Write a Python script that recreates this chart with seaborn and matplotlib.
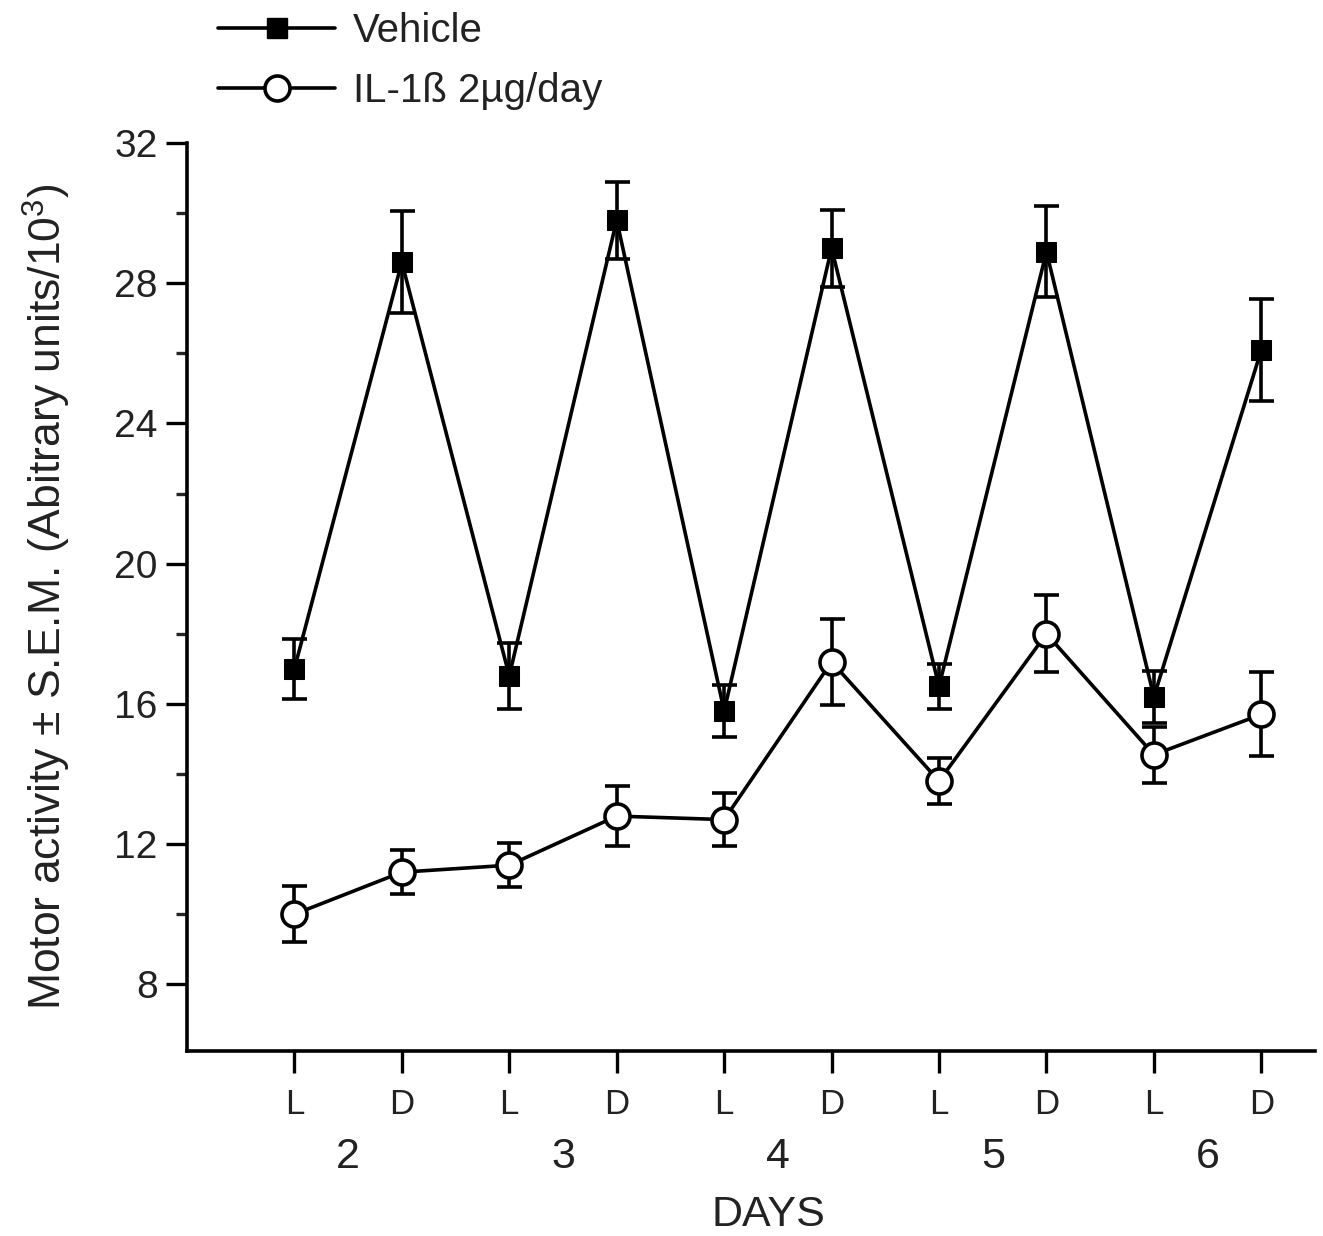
import numpy as np
import pandas as pd
import matplotlib
matplotlib.use("Agg")
import matplotlib.pyplot as plt
import matplotlib.transforms as mtransforms
from matplotlib.lines import Line2D
import seaborn as sns

# values
positions = [1, 2, 3, 4, 5, 6, 7, 8, 9, 10]
phase_labels = ["L", "D", "L", "D", "L", "D", "L", "D", "L", "D"]
day_labels = ["2", "3", "4", "5", "6"]
day_centres = [1.5, 3.5, 5.5, 7.5, 9.5]

vehicle_mean = [17.0, 28.6, 16.8, 29.8, 15.8, 29.0, 16.5, 28.9, 16.2, 26.1]
vehicle_sem = [0.85, 1.45, 0.95, 1.1, 0.75, 1.1, 0.65, 1.3, 0.75, 1.45]
il1_mean = [10.0, 11.2, 11.4, 12.8, 12.7, 17.2, 13.8, 18.0, 14.55, 15.7]
il1_sem = [0.8, 0.62, 0.62, 0.85, 0.75, 1.22, 0.65, 1.1, 0.8, 1.2]

sns.set_theme(style="ticks")
plt.rcParams['font.family'] = ['Liberation Sans', 'DejaVu Sans']
plt.rcParams['mathtext.fontset'] = 'custom'
plt.rcParams['mathtext.rm'] = 'Liberation Sans'
plt.rcParams['mathtext.it'] = 'Liberation Sans'

txt = '#222222'
lw = 2.6

df = pd.DataFrame({
    'pos': positions * 2,
    'value': vehicle_mean + il1_mean,
    'group': ['Vehicle'] * 10 + ['IL-1ß 2µg/day'] * 10,
})

fig = plt.figure(figsize=(13.23, 12.36), dpi=100)
ax = fig.add_axes([0.1413, 0.1497, 0.8527, 0.7346])

ax.errorbar(positions, vehicle_mean, yerr=vehicle_sem, fmt='none', ecolor='black',
            elinewidth=lw, capsize=9, capthick=lw, zorder=2)
ax.errorbar(positions, il1_mean, yerr=il1_sem, fmt='none', ecolor='black',
            elinewidth=lw, capsize=9, capthick=lw, zorder=2)

sns.lineplot(data=df[df.group == 'Vehicle'], x='pos', y='value', ax=ax, color='black',
             marker='s', markersize=15, markerfacecolor='black', markeredgecolor='black',
             linewidth=lw, legend=False, zorder=3)
sns.lineplot(data=df[df.group != 'Vehicle'], x='pos', y='value', ax=ax, color='black',
             marker='o', markersize=18, markerfacecolor='white', markeredgecolor='black',
             markeredgewidth=lw, linewidth=lw, legend=False, zorder=3)

ax.set_xlim(0, 10.5)
ax.set_ylim(6.1, 32)
ax.set_yticks([8, 12, 16, 20, 24, 28, 32])
ax.set_yticks([10, 14, 18, 22, 26, 30], minor=True)
ax.set_xticks(positions)
ax.set_xticklabels(phase_labels)
ax.tick_params(axis='y', which='major', length=15, width=2.4, labelsize=28, pad=6, colors='black', labelcolor=txt)
ax.tick_params(axis='y', which='minor', length=8, width=2.4)
ax.tick_params(axis='x', which='major', length=16, width=2.4, labelsize=25, pad=11, colors='black', labelcolor=txt)
for s in ['left', 'bottom']:
    ax.spines[s].set_linewidth(2.6)
    ax.spines[s].set_color('black')
sns.despine(ax=ax)

trans = mtransforms.blended_transform_factory(ax.transData, fig.transFigure)
for c, lab in zip(day_centres, day_labels):
    ax.text(c, 1 - 1157 / 1236, lab, transform=trans, ha='center', va='center',
            fontsize=31, color=txt)
fig.text(768 / 1323, 1 - 1215 / 1236, 'DAYS', ha='center', va='center',
         fontsize=31, color=txt)

ax.set_xlabel('')
ax.set_ylabel('Motor activity ± S.E.M. (Abitrary units/10$^3$)', fontsize=32, color=txt)
ax.yaxis.set_label_coords(-0.101, 0.5)

handles = [
    Line2D([], [], color='black', lw=lw, marker='s', markersize=15,
           markerfacecolor='black'),
    Line2D([], [], color='black', lw=lw, marker='o', markersize=18,
           markerfacecolor='white', markeredgewidth=lw),
]
leg = fig.legend(handles, ['Vehicle', 'IL-1ß 2µg/day'], loc='upper left',
                 bbox_to_anchor=(194 / 1323, 1 + 12 / 1236), frameon=False,
                 fontsize=29, handlelength=2.9, handletextpad=0.45, labelspacing=0.55,
                 borderpad=0.1)
for t in leg.get_texts():
    t.set_color(txt)

fig.savefig('out.png', dpi=100, facecolor='white')
